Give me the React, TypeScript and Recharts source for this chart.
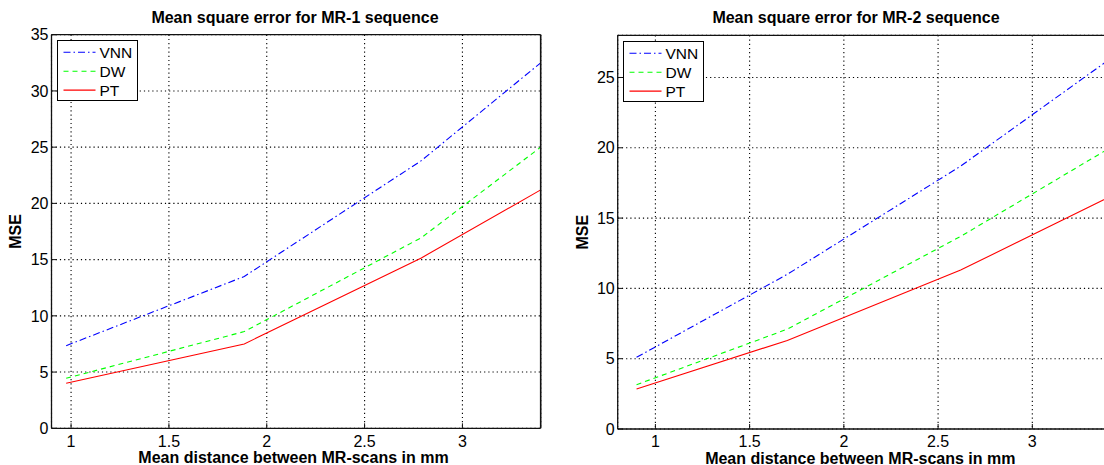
import { LineChart, Line, XAxis, YAxis, CartesianGrid, Legend } from "recharts"

// distances (mm) and MSE values
const mr1Dist = [0.975, 1.885, 2.79, 3.4]
const mr1Vnn = [7.35, 13.5, 23.8, 32.5]
const mr1Dw = [4.45, 8.6, 16.95, 25.0]
const mr1Pt = [4.0, 7.5, 15.15, 21.2]

const mr2Dist = [0.9, 1.7, 2.62, 3.4]
const mr2Vnn = [5.1, 11.0, 18.7, 26.2]
const mr2Dw = [3.15, 7.1, 13.7, 19.9]
const mr2Pt = [2.85, 6.3, 11.3, 16.45]

const distTicks = [1, 1.5, 2, 2.5, 3]
const mr1Ticks = [0, 5, 10, 15, 20, 25, 30, 35]
const mr2Ticks = [0, 5, 10, 15, 20, 25]

const FONT = "'Liberation Sans', Arial, Helvetica, sans-serif"

const SERIES = [
  { key: "vnn", name: "VNN", color: "#0000ff", dash: "7 3 1.5 3" },
  { key: "dw", name: "DW", color: "#00ff00", dash: "5 4" },
  { key: "pt", name: "PT", color: "#ff0000", dash: undefined as string | undefined },
]

const buildRows = (dist: number[], vnn: number[], dw: number[], pt: number[]) =>
  dist.map((d, i) => ({ dist: d, vnn: vnn[i], dw: dw[i], pt: pt[i] }))

const mr1Data = buildRows(mr1Dist, mr1Vnn, mr1Dw, mr1Pt)
const mr2Data = buildRows(mr2Dist, mr2Vnn, mr2Dw, mr2Pt)

function BoxLegend({ lineX1, lineX2, textX }: { lineX1: number; lineX2: number; textX: number }) {
  return (
    <div
      style={{
        width: 81,
        height: 61,
        border: "1.4px solid #000",
        background: "#fff",
        boxSizing: "border-box",
      }}
    >
      <svg width={79} height={59} style={{ display: "block" }}>
        {SERIES.map((s, i) => {
          const y = 11.3 + i * 18.9
          return (
            <g key={s.key}>
              <line x1={lineX1} x2={lineX2} y1={y} y2={y} stroke={s.color} strokeWidth={1.1} strokeDasharray={s.dash} />
              <text x={textX} y={y} dominantBaseline="central" fontFamily={FONT} fontSize={15.5} fill="#000">
                {s.name}
              </text>
            </g>
          )
        })}
      </svg>
    </div>
  )
}

interface PanelProps {
  data: Array<{ dist: number; vnn: number; dw: number; pt: number }>
  title: string
  titleX: number
  left: number
  width: number
  xMin: number
  yMax: number
  yTicks: number[]
  yAxisWidth: number
  xAxisHeight: number
  marginTop: number
  marginRight: number
  mseX: number
  xLabelX: number
  xLabelY: number
  legendLeft: number
  legendTop: number
}

function Panel(p: PanelProps) {
  const axisStroke = "#111"
  const mseLabel = (props: any) => {
    const vb = props.viewBox || {}
    const cy = (vb.y ?? 0) + (vb.height ?? 0) / 2
    return (
      <text
        x={p.mseX}
        y={cy}
        transform={`rotate(-90 ${p.mseX} ${cy})`}
        textAnchor="middle"
        dominantBaseline="central"
        fontFamily={FONT}
        fontWeight="bold"
        fontSize={16}
        fill="#000"
      >
        MSE
      </text>
    )
  }
  const distLabel = () => (
    <text
      x={p.xLabelX}
      y={p.xLabelY}
      textAnchor="middle"
      dominantBaseline="central"
      fontFamily={FONT}
      fontWeight="bold"
      fontSize={16}
      fill="#000"
    >
      Mean distance between MR-scans in mm
    </text>
  )

  return (
    <div style={{ position: "absolute", left: p.left, top: 0, width: p.width, height: 465 }}>
      <div
        style={{
          position: "absolute",
          left: p.titleX - 200,
          top: 7.5,
          width: 400,
          textAlign: "center",
          fontFamily: FONT,
          fontWeight: "bold",
          fontSize: 16,
          lineHeight: "20px",
          color: "#000",
          whiteSpace: "nowrap",
        }}
      >
        {p.title}
      </div>
      <LineChart
        width={p.width}
        height={465}
        data={p.data}
        margin={{ top: p.marginTop, right: p.marginRight, left: 0, bottom: 0 }}
        style={{ position: "absolute", left: 0, top: 0 }}
      >
        <CartesianGrid stroke="#000" strokeDasharray="1.2 3" strokeWidth={1.1} />
        <XAxis
          dataKey="dist"
          type="number"
          domain={[p.xMin, 3.4]}
          ticks={distTicks}
          interval={0}
          allowDataOverflow
          height={p.xAxisHeight}
          tickSize={-5}
          tickMargin={12}
          axisLine={{ stroke: axisStroke, strokeWidth: 1.3 }}
          tickLine={{ stroke: axisStroke }}
          tick={{ fill: "#000", fontSize: 16, fontFamily: FONT }}
          label={distLabel}
        />
        <XAxis
          xAxisId="top"
          orientation="top"
          dataKey="dist"
          type="number"
          domain={[p.xMin, 3.4]}
          ticks={distTicks}
          interval={0}
          allowDataOverflow
          height={1}
          tickSize={-5}
          axisLine={{ stroke: axisStroke, strokeWidth: 1.3 }}
          tickLine={{ stroke: axisStroke }}
          tick={false}
        />
        <YAxis
          type="number"
          domain={[0, p.yMax]}
          ticks={p.yTicks}
          interval={0}
          allowDataOverflow
          width={p.yAxisWidth}
          tickSize={-5}
          tickMargin={8}
          axisLine={{ stroke: axisStroke, strokeWidth: 1.3 }}
          tickLine={{ stroke: axisStroke }}
          tick={{ fill: "#000", fontSize: 16, fontFamily: FONT }}
          label={mseLabel}
        />
        <YAxis
          yAxisId="right"
          orientation="right"
          type="number"
          domain={[0, p.yMax]}
          ticks={p.yTicks}
          interval={0}
          allowDataOverflow
          width={1}
          tickSize={-5}
          axisLine={{ stroke: axisStroke, strokeWidth: 1.6 }}
          tickLine={{ stroke: axisStroke }}
          tick={false}
        />
        {SERIES.map((s) => (
          <Line
            key={s.key}
            type="linear"
            dataKey={s.key}
            name={s.name}
            stroke={s.color}
            strokeWidth={1.1}
            strokeDasharray={s.dash}
            dot={false}
            activeDot={false}
            isAnimationActive={false}
          />
        ))}
        <Legend
          layout="vertical"
          align="center"
          verticalAlign="middle"
          wrapperStyle={{ position: "absolute", left: p.legendLeft, top: p.legendTop, width: 81, height: 61 }}
          content={() => <BoxLegend lineX1={5.5} lineX2={37.5} textX={41.5} />}
        />
      </LineChart>
    </div>
  )
}

export default function App() {
  return (
    <div
      style={{
        position: "absolute",
        left: 0,
        top: 0,
        width: 1104,
        height: 465,
        overflow: "hidden",
        background: "#fff",
      }}
    >
      <Panel
        data={mr1Data}
        title="Mean square error for MR-1 sequence"
        titleX={295}
        left={0}
        width={560}
        xMin={0.9}
        yMax={35}
        yTicks={mr1Ticks}
        yAxisWidth={51.5}
        xAxisHeight={36.7}
        marginTop={33.7}
        marginRight={18.3}
        mseX={15.5}
        xLabelX={293.5}
        xLabelY={457}
        legendLeft={57.3}
        legendTop={40}
      />
      <Panel
        data={mr2Data}
        title="Mean square error for MR-2 sequence"
        titleX={296}
        left={560}
        width={570}
        xMin={0.8}
        yMax={28}
        yTicks={mr2Ticks}
        yAxisWidth={57.7}
        xAxisHeight={36}
        marginTop={34.3}
        marginRight={21.3}
        mseX={22.5}
        xLabelX={300.3}
        xLabelY={458}
        legendLeft={63.3}
        legendTop={40.7}
      />
    </div>
  )
}
